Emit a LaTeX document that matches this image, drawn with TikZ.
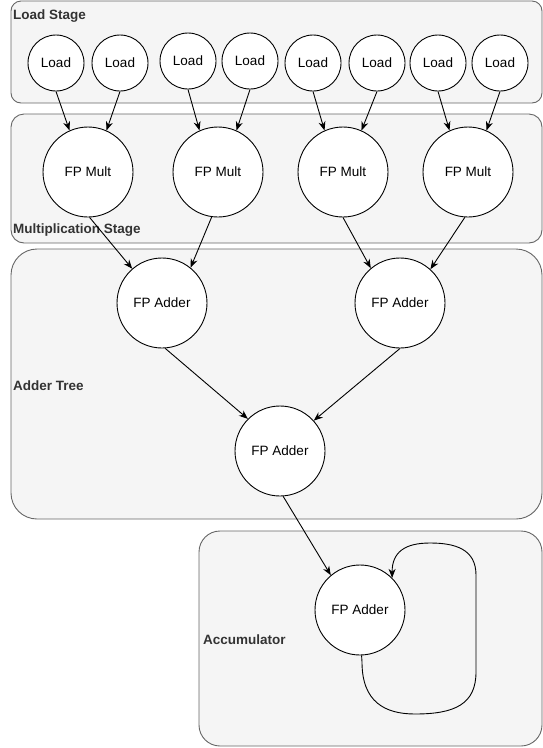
\documentclass[tikz,border=0pt]{standalone}
\usepackage{fontspec}
\setmainfont{Liberation Sans}
\usetikzlibrary{arrows.meta}
\definecolor{boxfill}{HTML}{F5F5F5}
\definecolor{boxline}{HTML}{666666}
\definecolor{labtext}{HTML}{333333}
\begin{document}
\begin{tikzpicture}[x=1pt,y=-1pt,
  stagebox/.style={draw=boxline,fill=boxfill,line width=0.9pt},
  stagelabel/.style={anchor=west,text=labtext,font=\fontsize{13.5}{16}\selectfont\bfseries,inner sep=0pt},
  small/.style={circle,draw=black,fill=white,line width=0.9pt,minimum size=56pt,inner sep=0pt,font=\fontsize{13.5}{16}\selectfont},
  big/.style={circle,draw=black,fill=white,line width=0.9pt,minimum size=90pt,inner sep=0pt,font=\fontsize{13.5}{16}\selectfont},
  conn/.style={draw=black,line width=0.9pt,-{Stealth[length=9pt,width=7pt]}}]
\useasboundingbox (0,0) rectangle (543,748);
% stage containers
\draw[stagebox,rounded corners=10pt] (11,1) rectangle (542,103);
\draw[stagebox,rounded corners=13pt] (11,114) rectangle (542,243);
\draw[stagebox,rounded corners=26pt] (11,249) rectangle (542,519);
\draw[stagebox,rounded corners=21pt] (199,531) rectangle (542,746);
\node[stagelabel] (lblload) at (13,16) {Load Stage};
\node[stagelabel] (lblmult) at (13,230) {Multiplication Stage};
\node[stagelabel] (lbladd) at (13,386) {Adder Tree};
\node[stagelabel] (lblacc) at (203,640) {Accumulator};
% load nodes
\node[small] (l1) at (56,63) {Load};
\node[small] (l2) at (120,63) {Load};
\node[small] (l3) at (188,61) {Load};
\node[small] (l4) at (250,61) {Load};
\node[small] (l5) at (313,63) {Load};
\node[small] (l6) at (377,63) {Load};
\node[small] (l7) at (438,63) {Load};
\node[small] (l8) at (500,63) {Load};
% multipliers
\node[big] (m1) at (88,172) {FP Mult};
\node[big] (m2) at (218,172) {FP Mult};
\node[big] (m3) at (343,172) {FP Mult};
\node[big] (m4) at (468,172) {FP Mult};
% adders
\node[big] (a1) at (162,303) {FP Adder};
\node[big] (a2) at (400,303) {FP Adder};
\node[big] (a3) at (280,451) {FP Adder};
\node[big] (a4) at (360,610) {FP Adder};
% load -> mult
\draw[conn] (l1.south) -- (m1.114);
\draw[conn] (l2.south) -- (m1.66);
\draw[conn] (l3.south) -- (m2.114);
\draw[conn] (l4.south) -- (m2.66);
\draw[conn] (l5.south) -- (m3.114);
\draw[conn] (l6.south) -- (m3.66);
\draw[conn] (l7.south) -- (m4.114);
\draw[conn] (l8.south) -- (m4.66);
% mult -> adder
\draw[conn] (m1.-88) -- (a1.131);
\draw[conn] (m2.-98) -- (a1.51);
\draw[conn] (m3.-90) -- (a2.130);
\draw[conn] (m4.-94) -- (a2.48);
% adder tree
\draw[conn] (a1.-86) -- (a3.135);
\draw[conn] (a2.-90) -- (a3.42);
\draw[conn] (a3.-86) -- (a4.130);
% accumulator loop
\draw[conn] (a4.-88) -- (362,662) .. controls (362,702) and (385,714) .. (415,714)
  .. controls (455,714) and (476,704) .. (476,672)
  -- (476,575) .. controls (476,549) and (455,543) .. (430,543)
  .. controls (405,543) and (392,552) .. (a4.45);
\end{tikzpicture}
\end{document}
